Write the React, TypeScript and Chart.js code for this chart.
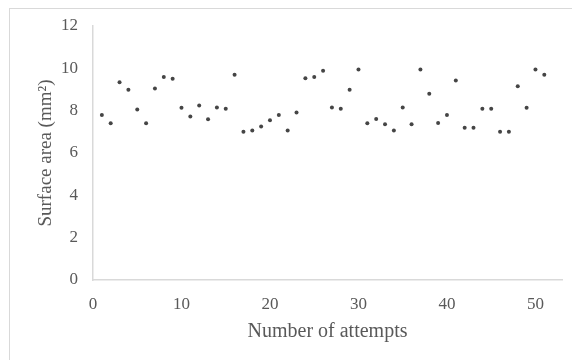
import React, { useEffect, useRef } from "react";
import { Chart, registerables } from "chart.js";

Chart.register(...registerables);

const attempts = [
  1, 2, 3, 4, 5, 6, 7, 8, 9, 10, 11, 12, 13, 14, 15, 16, 17, 18, 19, 20, 21, 22, 23, 24, 25, 26,
  27, 28, 29, 30, 31, 32, 33, 34, 35, 36, 37, 38, 39, 40, 41, 42, 43, 44, 45, 46, 47, 48, 49, 50, 51,
];
const surfaceArea = [
  7.79, 7.41, 9.34, 8.99, 8.06, 7.41, 9.05, 9.59, 9.51, 8.14, 7.73, 8.25, 7.6, 8.15, 8.09, 9.7,
  7.0, 7.06, 7.25, 7.55, 7.79, 7.06, 7.91, 9.53, 9.59, 9.89, 8.15, 8.09, 8.99, 9.95, 7.41, 7.61,
  7.36, 7.06, 8.15, 7.36, 9.95, 8.8, 7.42, 7.79, 9.42, 7.19, 7.19, 8.09, 8.09, 7.0, 7.0, 9.15,
  8.14, 9.95, 9.7,
];
const xTickValues = [0, 10, 20, 30, 40, 50];
const yTickValues = [0, 2, 4, 6, 8, 10, 12];

const TEXT = "#595959";
const AXIS = "#d9d9d9";
const FONT = "'Liberation Serif', 'Times New Roman', serif";

export default function App() {
  const ref = useRef<HTMLCanvasElement | null>(null);

  useEffect(() => {
    if (!ref.current) return;
    const chart = new Chart(ref.current, {
      type: "scatter",
      data: {
        datasets: [
          {
            data: attempts.map((x, i) => ({ x, y: surfaceArea[i] })),
            backgroundColor: "#454545",
            borderColor: "#454545",
            pointRadius: 2,
            borderWidth: 0,
          },
        ],
      },
      options: {
        animation: false,
        responsive: false,
        maintainAspectRatio: false,
        layout: { padding: { top: 18, right: 18, left: 0, bottom: 0 } },
        plugins: { legend: { display: false }, tooltip: { enabled: false } },
        scales: {
          x: {
            type: "linear",
            min: 0,
            max: 53,
            afterBuildTicks: (s: any) => {
              s.ticks = xTickValues.map((v) => ({ value: v }));
            },
            afterFit: (s: any) => {
              s.height = 80;
              s.paddingLeft = 0;
              s.paddingRight = 0;
            },
            grid: { display: false, drawTicks: false, tickLength: 0 },
            border: { display: true, color: AXIS, width: 1.5 },
            ticks: { color: TEXT, font: { family: FONT, size: 17 }, padding: 14, maxRotation: 0 },
            title: {
              display: true,
              text: "Number of attempts",
              color: TEXT,
              font: { family: FONT, size: 20 },
              padding: { top: 0, bottom: 16 },
            },
          },
          y: {
            type: "linear",
            min: 0,
            max: 12,
            afterBuildTicks: (s: any) => {
              s.ticks = yTickValues.map((v) => ({ value: v }));
            },
            afterFit: (s: any) => {
              s.width = 85;
              s.paddingTop = 0;
              s.paddingBottom = 0;
            },
            grid: { display: false, drawTicks: false, tickLength: 0 },
            border: { display: true, color: AXIS, width: 1.5 },
            ticks: { color: TEXT, font: { family: FONT, size: 17 }, padding: 15 },
            title: {
              display: true,
              text: "Surface area (mm²)",
              color: TEXT,
              font: { family: FONT, size: 19 },
              padding: { top: 27, bottom: 0 },
            },
          },
        },
      },
    });
    return () => chart.destroy();
  }, []);

  return (
    <div style={{ width: 572, height: 352, overflow: "hidden", position: "relative" }}>
      <div
        style={{
          position: "absolute",
          left: 1,
          top: 0,
          width: 700,
          height: 500,
          borderLeft: "1px solid #d9d9d9",
          borderTop: "1px solid #d9d9d9",
        }}
      />
      <canvas ref={ref} width={572} height={352} style={{ position: "absolute", left: 0, top: 0 }} />
    </div>
  );
}
